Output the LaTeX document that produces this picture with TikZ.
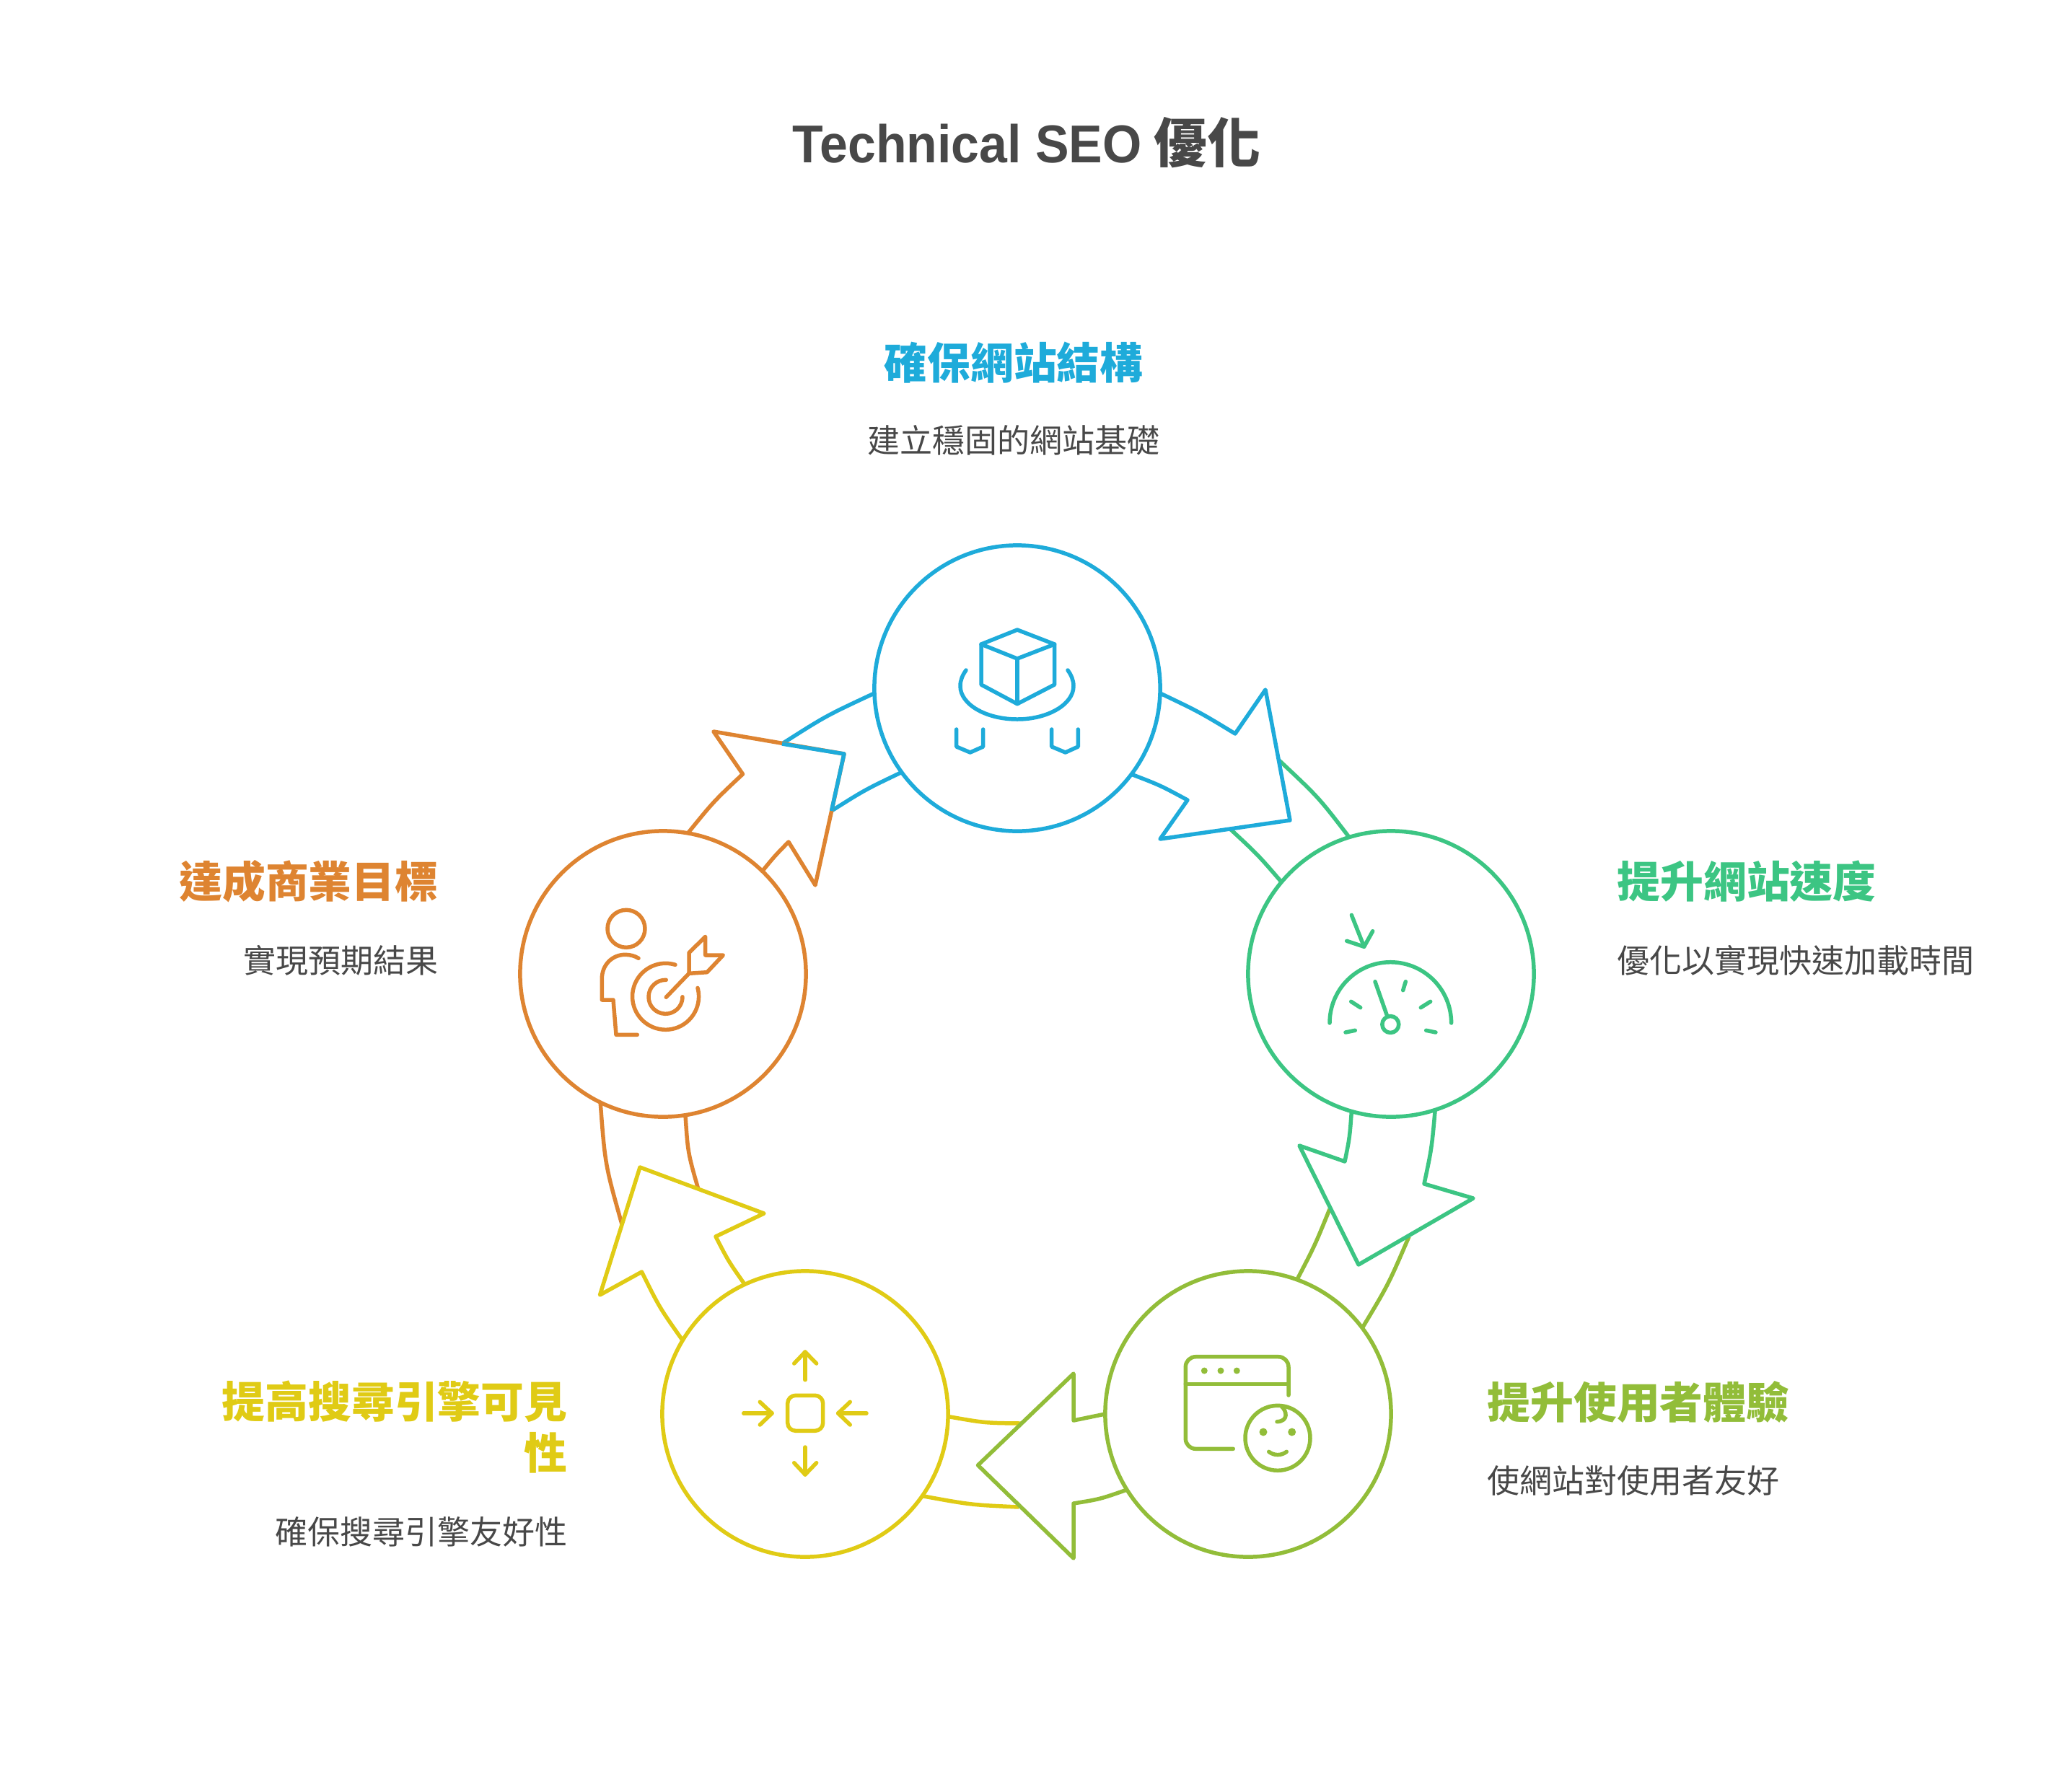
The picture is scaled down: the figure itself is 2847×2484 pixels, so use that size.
\documentclass[tikz,border=0pt]{standalone}
\usepackage{fontspec}
\setmainfont{Noto Sans CJK TC}
\newfontfamily\latinfont[FakeStretch=0.945]{Liberation Sans}
\definecolor{bluehub}{HTML}{1EABDA}
\definecolor{greenhub}{HTML}{3CC583}
\definecolor{limehub}{HTML}{92BD39}
\definecolor{yellowhub}{HTML}{E0CB15}
\definecolor{orangehub}{HTML}{DE8431}
\definecolor{inktext}{HTML}{484848}
\begin{document}
\begin{tikzpicture}[
                            x=0.01cm, y=-0.01cm,
                            line width=1.56pt,
                            line join=round,
                            hub/.style={circle, draw, fill=none, minimum size=3.96cm, inner sep=0pt, outer sep=0pt},
                            headtext/.style={font=\fontsize{17}{20.2}\selectfont\bfseries, inner sep=0pt},
                            subtext/.style={font=\fontsize{12.8}{16}\selectfont, text=inktext, inner sep=0pt},
                            icon/.style={line cap=round}
                            ]
            
                            \useasboundingbox (0,0) rectangle (2847,2484);
                            \node [font=\fontsize{21}{25}\selectfont\bfseries, text=inktext, inner sep=0pt] (title) at (1423,198) {{\latinfont Technical SEO} 優化};
                            
                            \node [hub, draw=bluehub] (cube) at (1410,954) {};
                            \node [hub, draw=greenhub] (gauge) at (1928,1350) {};
                            \node [hub, draw=limehub] (window) at (1730,1960) {};
                            \node [hub, draw=yellowhub] (focus) at (1116,1960) {};
                            \node [hub, draw=orangehub] (target) at (919,1350) {};
                            
                            \node [headtext, text=bluehub] (cubehead) at (1405,503) {確保網站結構};
                            \node [subtext] (cubesub) at ([yshift=-1.07cm]cubehead) {建立穩固的網站基礎};
                            \node [headtext, text=greenhub, anchor=west] (gaugehead) at (2239,1222) {提升網站速度};
                            \node [subtext, anchor=west] (gaugesub) at ([yshift=-1.09cm]gaugehead.west) {優化以實現快速加載時間};
                            \node [headtext, text=limehub, anchor=west] (windowhead) at (2059,1943) {提升使用者體驗};
                            \node [subtext, anchor=west] (windowsub) at ([yshift=-1.09cm]windowhead.west) {使網站對使用者友好};
                            \node [headtext, text=yellowhub, anchor=north east, align=right] (focushead) at (789,1911) {提高搜尋引擎可見\\性};
                            \node [subtext, anchor=east] (focussub) at (789,2123) {確保搜尋引擎友好性};
                            \node [headtext, text=orangehub, anchor=east] (targethead) at (610,1222) {達成商業目標};
                            \node [subtext, anchor=east] (targetsub) at ([yshift=-1.09cm]targethead.east) {實現預期結果};
                            
                            \draw [greenhub] (1773,1054) .. controls (1827.5,1105) .. (gauge.107);
                            \draw [greenhub] (1705,1149) .. controls (1743.4,1184.6) .. (gauge.140);
                            \draw [limehub] (1953,1714) .. controls (1924.6,1780.2) .. (window.37.6);
                            \draw [limehub] (1843,1676) .. controls (1822.5,1726.4) .. (window.70.9);
                            \draw [yellowhub] (1412,2089) .. controls (1346,2086) .. (focus.-35);
                            \draw [yellowhub] (1415,1973) .. controls (1365.1,1972.5) .. (focus.-1.4);
                            \draw [orangehub] (862,1697) .. controls (838.7,1614.4) .. (target.244);
                            \draw [orangehub] (967.5,1647) .. controls (953.4,1597.6) .. (target.-81.9);
                            \draw [bluehub] (1084,1031) .. controls (1144.7,992.3) .. (cube.182.9);
                            \draw [bluehub] (1152.5,1124) .. controls (1199,1094.7) .. (cube.216.5);
                            
                            \draw [bluehub] (cube.-2.9) .. controls (1662.6,987) .. (1712,1017) -- (1754,956) -- (1788,1137) -- (1608,1163) -- (1646,1109) .. controls (1608,1088.5) .. (cube.-37);
                            \draw [greenhub] (gauge.254.4) .. controls (1870.7,1577) .. (1864,1610) -- (1801,1588) -- (1883,1753) -- (2042,1661) -- (1974,1641) .. controls (1984.5,1591.5) .. (gauge.-72.2);
                            \draw [limehub] (window.180) .. controls (1509.5,1965) .. (1488,1969) -- (1488,1904) -- (1355.5,2031) -- (1488,2160) -- (1488,2084) .. controls (1524.9,2078) .. (window.212.6);
                            \draw [yellowhub] (focus.115.3) .. controls (1009.5,1748) .. (992,1714) -- (1059,1682) -- (887,1618) -- (831.5,1795) -- (889.5,1763) .. controls (914.2,1812.7) .. (focus.149);
                            \draw [orangehub] (target.80) .. controls (989.4,1110.6) .. (1029.5,1073) -- (989,1014) -- (1170,1045) -- (1130,1227) -- (1093,1167) .. controls (1074.3,1186) .. (target.46);
                            \draw [bluehub] (1084,1031) -- (1170,1045) -- (1152.5,1124);
                            
                            \draw [icon, bluehub] (1410,873) -- (1461.7,893) -- (1461.7,949) -- (1410,975.7) -- (1360,949) -- (1360,893) -- cycle;
                            \draw [icon, bluehub] (1360,893) -- (1410,913) -- (1461.7,893);
                            \draw [icon, bluehub] (1410,913) -- (1410,975.7);
                            \draw [icon, bluehub] (1339,929) .. controls (1334,936) and (1331,943) .. (1331,951) .. controls (1331,976) and (1366,997) .. (1410,997) .. controls (1453,997) and (1488,976) .. (1488,951) .. controls (1488,943) and (1485,936) .. (1480,929);
                            \draw [icon, bluehub] (1325.7,1011) -- (1325.7,1035) -- (1344.7,1043) -- (1362.7,1035) -- (1362.7,1011);
                            \draw [icon, bluehub] (1457.7,1011) -- (1457.7,1035) -- (1476.7,1043) -- (1494.3,1035) -- (1494.3,1011);
                            
                            \draw [icon, greenhub] (1873.3,1268.3) -- (1890.7,1312.3);
                            \draw [icon, greenhub] (1866.7,1304.3) -- (1890.7,1312.3) -- (1902.7,1290.7);
                            \draw [icon, greenhub] (1843,1418) arc (180:360:84.3);
                            \draw [icon, greenhub] (1872.7,1388.3) -- (1885.7,1396.7);
                            \draw [icon, greenhub] (1948.3,1360.7) -- (1944.7,1372.7);
                            \draw [icon, greenhub] (1982.7,1388.3) -- (1969.3,1396.7);
                            \draw [icon, greenhub] (1865,1431) -- (1878.3,1428.3);
                            \draw [icon, greenhub] (1976.7,1428.3) -- (1990,1431);
                            \draw [icon, greenhub] (1906,1360.7) -- (1922.7,1408.3);
                            \draw [icon, greenhub] (1927.3,1420) circle (11.5);
                            
                            \draw [icon, limehub] (1709.3,2008.3) -- (1657.3,2008.3) arc (90:180:14) -- (1643.3,1894.7) arc (180:270:14) -- (1772,1880.7) arc (270:360:14) -- (1786,1934);
                            \draw [icon, limehub] (1643.3,1918.3) -- (1786,1918.3);
                            \fill [limehub] (1669.3,1900) circle (4.5) (1692,1900) circle (4.5) (1714.3,1900) circle (4.5);
                            \draw [icon, limehub] (1771,1993.3) circle (45);
                            \draw [icon, limehub] (1776.7,1950) .. controls (1783,1955) and (1787,1970) .. (1770,1970.7);
                            \fill [limehub] (1751,1985) circle (5.5) (1790.7,1985) circle (5.5);
                            \draw [icon, limehub] (1758.7,2012.3) .. controls (1766,2018) and (1776,2018) .. (1783.3,2012.3);
                            
                            \draw [icon, yellowhub, rounded corners=1.1mm] (1091.7,1934.3) rectangle (1140.7,1983.3);
                            \draw [icon, yellowhub] (1116,1912.7) -- (1116,1874);
                            \draw [icon, yellowhub] (1100.7,1890) -- (1116,1874) -- (1131.7,1890);
                            \draw [icon, yellowhub] (1116,2006) -- (1116,2044);
                            \draw [icon, yellowhub] (1100.7,2027.7) -- (1116,2044) -- (1131.7,2027.7);
                            \draw [icon, yellowhub] (1030.7,1959) -- (1070,1959);
                            \draw [icon, yellowhub] (1053.3,1943.3) -- (1070,1959) -- (1053.3,1975);
                            \draw [icon, yellowhub] (1201,1959) -- (1161.7,1959);
                            \draw [icon, yellowhub] (1178.3,1943.3) -- (1161.7,1959) -- (1178.3,1975);
                            
                            \draw [icon, orangehub] (868,1287.3) circle (26);
                            \draw [icon, orangehub] (885,1328.3) .. controls (880,1325) and (873,1323.3) .. (866.7,1323.3) .. controls (848,1323.3) and (834.3,1338) .. (834.3,1356.7) -- (834.3,1386) -- (850,1386) -- (854,1434.3) -- (883.3,1434.3);
                            \draw [icon, orangehub] (936,1337.3) arc (-73:-375:46);
                            \draw [icon, orangehub] (923.3,1358.3) arc (-88:-360:23.5);
                            \draw [icon, orangehub] (923.3,1382.3) -- (955,1349.3);
                            \draw [icon, orangehub] (955,1349.3) -- (955,1320.7) -- (977.7,1298.3) -- (977.7,1324) -- (1002.3,1324) -- (980,1347.7) -- cycle;
                        \end{tikzpicture}
\end{document}
